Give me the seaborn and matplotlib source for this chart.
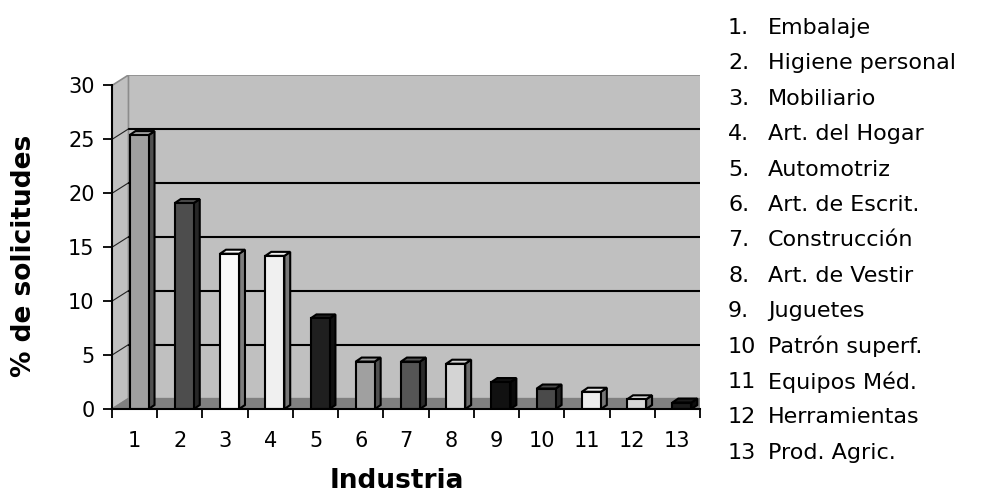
import matplotlib
matplotlib.use("Agg")
import matplotlib.pyplot as plt
from matplotlib.patches import Polygon, Rectangle
from matplotlib.colors import to_rgb
import seaborn as sns
import pandas as pd

# Share of requests per industry (%)
industries = ["1", "2", "3", "4", "5", "6", "7", "8", "9", "10", "11", "12", "13"]
shares = [25.4, 19.1, 14.4, 14.2, 8.4, 4.4, 4.4, 4.2, 2.5, 1.9, 1.6, 0.9, 0.6]
bar_colors = ["#a0a0a0", "#4d4d4d", "#fafafa", "#f0f0f0", "#1f1f1f", "#a0a0a0",
              "#555555", "#d4d4d4", "#111111", "#4a4a4a", "#ececec", "#d8d8d8",
              "#1a1a1a"]
legend_numbers = ["1.", "2.", "3.", "4.", "5.", "6.", "7.", "8.", "9.",
                  "10", "11", "12", "13"]
legend_names = ["Embalaje", "Higiene personal", "Mobiliario", "Art. del Hogar",
                "Automotriz", "Art. de Escrit.", "Construcción", "Art. de Vestir",
                "Juguetes", "Patrón superf.", "Equipos Méd.", "Herramientas",
                "Prod. Agric."]
y_ticks = [0, 5, 10, 15, 20, 25, 30]

sns.set_style("white")
plt.rcParams["font.family"] = ["DejaVu Sans"]
plt.rcParams["text.color"] = "black"
plt.rcParams["xtick.labelcolor"] = "black"
plt.rcParams["ytick.labelcolor"] = "black"

W, H = 983, 496
fig = plt.figure(figsize=(W / 100, H / 100), dpi=100)

# plot box in pixels: x from 112 to 700, y from 75 to 409
left_px, right_px, top_px, bottom_px = 112, 700, 75, 409
ax = fig.add_axes([left_px / W, 1 - bottom_px / H,
                   (right_px - left_px) / W, (bottom_px - top_px) / H])

n = len(industries)
DX, DY = 0.364, 0.97          # depth of the chart box (data units)
ax.set_xlim(-0.5, n - 0.5 + DX)
ax.set_ylim(0, 30 + DY)

df = pd.DataFrame({"Industria": industries, "pct": shares})
sns.barplot(data=df, x="Industria", y="pct", hue="Industria", palette=bar_colors,
            legend=False, width=0.42, edgecolor="black", linewidth=1.5,
            saturation=1, ax=ax, zorder=5)

x0, x1 = -0.5, n - 0.5
# back wall, side wall and floor of the 3D box
ax.add_patch(Rectangle((x0 + DX, DY), x1 - x0, 30, fc="#c0c0c0", ec="#8c8c8c",
                       lw=1.2, zorder=0))
ax.add_patch(Polygon([(x0, 0), (x0, 30), (x0 + DX, 30 + DY), (x0 + DX, DY)],
                     closed=True, fc="#c0c0c0", ec="#8c8c8c", lw=1.2, zorder=0.5))
ax.add_patch(Polygon([(x0, 0), (x1, 0), (x1 + DX, DY), (x0 + DX, DY)],
                     closed=True, fc="#808080", ec="#808080", lw=1, zorder=0.5))
for v in y_ticks[1:-1]:
    ax.plot([x0 + DX, x1 + DX], [v + DY, v + DY], color="black", lw=1.5,
            zorder=1, solid_capstyle="butt")
    ax.plot([x0, x0 + DX], [v, v + DY], color="#202020", lw=0.8, zorder=1)

# extruded side and top faces of each column
bd, bdy = 0.13, 0.37
for p in ax.patches:
    if not isinstance(p, Rectangle) or p.get_zorder() != 5:
        continue
    p.set_x(p.get_x() + 0.1)
    bx, bw, bh = p.get_x(), p.get_width(), p.get_height()
    face = to_rgb(p.get_facecolor())
    side = tuple(c * 0.5 for c in face)
    ax.add_patch(Polygon([(bx + bw, 0), (bx + bw, bh), (bx + bw + bd, bh + bdy),
                          (bx + bw + bd, bdy)], closed=True, fc=side, ec="black",
                         lw=1.5, zorder=4.5))
    ax.add_patch(Polygon([(bx, bh), (bx + bw, bh), (bx + bw + bd, bh + bdy),
                          (bx + bd, bh + bdy)], closed=True, fc=face, ec="black",
                         lw=1.5, zorder=4.5))

# axes
for s in ["top", "right"]:
    ax.spines[s].set_visible(False)
ax.spines["left"].set_bounds(0, 30)
ax.spines["bottom"].set_bounds(x0, x1)
for s in ["left", "bottom"]:
    ax.spines[s].set_color("black")
    ax.spines[s].set_linewidth(1.5)
    ax.spines[s].set_zorder(6)

ax.set_yticks(y_ticks)
ax.set_yticklabels([str(t) for t in y_ticks])
ax.set_xticks(range(n))
ax.set_xticklabels(industries)
ax.set_xticks([i - 0.5 for i in range(n + 1)], minor=True)
ax.tick_params(axis="y", which="major", length=6.5, width=1.3, color="black",
               labelsize=15, pad=6, left=True, direction="out",
               labelcolor="black")
ax.tick_params(axis="x", which="major", length=0, labelsize=15, pad=16,
               labelcolor="black")
ax.tick_params(axis="x", which="minor", length=6.5, width=1.3, color="black",
               bottom=True, direction="out")
ax.set_xlabel("")
ax.set_ylabel("")

fig.text(24 / W, 1 - 256 / H, "% de solicitudes", rotation=90, ha="center",
         va="center", fontsize=19, fontweight="bold", color="black")
fig.text(397 / W, 1 - 481 / H, "Industria", ha="center", va="center",
         fontsize=19, fontweight="bold", color="black")

# numbered key of industries
for i, (num, name) in enumerate(zip(legend_numbers, legend_names)):
    yy = 1 - (28 + 35.4 * i) / H
    fig.text(728 / W, yy, num, ha="left", va="center", fontsize=16, color="black")
    fig.text(768 / W, yy, name, ha="left", va="center", fontsize=16, color="black")

fig.savefig("out.png", dpi=100)
